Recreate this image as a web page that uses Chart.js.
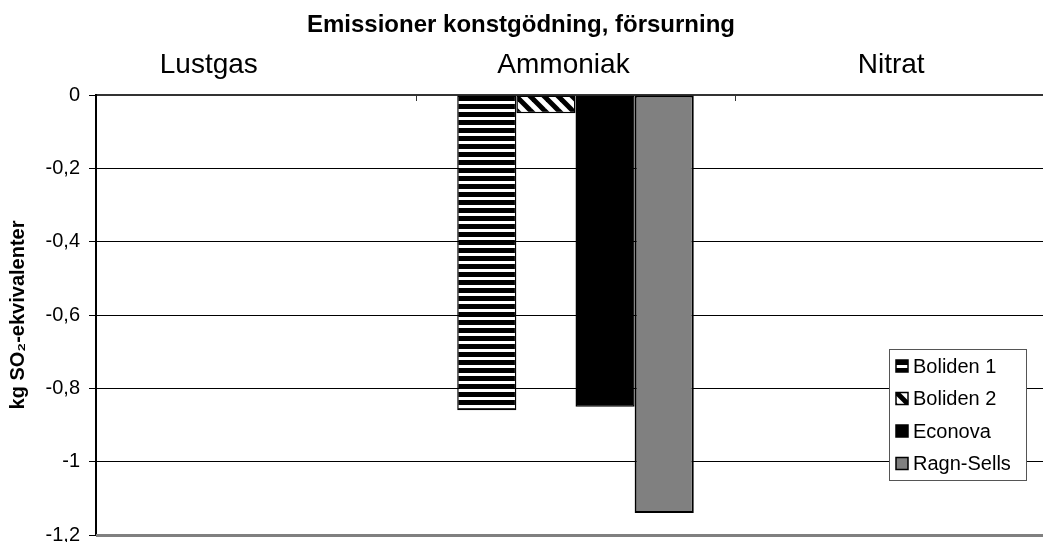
<!DOCTYPE html>
<html>
<head>
<meta charset="utf-8">
<script src="https://cdn.jsdelivr.net/npm/chart.js@4/dist/chart.umd.min.js"></script>
<style>
  html, body { margin: 0; padding: 0; background: #fff; overflow: hidden; }
  #wrap { width: 1043px; height: 542px; overflow: hidden; position: relative; }
  canvas { display: block; }
</style>
</head>
<body>
<div id="wrap"><canvas id="myChart" width="1070" height="542"></canvas></div>
<script>
const chartTitle = "Emissioner konstgödning, försurning";
const yTitle = "kg SO₂-ekvivalenter";
const categories = ["Lustgas", "Ammoniak", "Nitrat"];
// inga staplar syns för lustgas och nitrat
const boliden1 = [null, -0.86, null];
const boliden2 = [null, -0.05, null];
const econova = [null, -0.85, null];
const ragnSells = [null, -1.14, null];
const seriesNames = ["Boliden 1", "Boliden 2", "Econova", "Ragn-Sells"];
const yTicks = [0, -0.2, -0.4, -0.6, -0.8, -1, -1.2];

const FONT = '"Liberation Sans", Arial, sans-serif';
Chart.defaults.font.family = FONT;
Chart.defaults.color = "#000";

// mönster för Boliden-staplarna
function stripePattern() {
  const c = document.createElement("canvas");
  c.width = 8; c.height = 8;
  const g = c.getContext("2d");
  g.fillStyle = "#fff";
  g.fillRect(0, 0, 8, 8);
  g.fillStyle = "#000";
  g.fillRect(0, 0, 8, 5);
  return g.createPattern(c, "repeat");
}

function diagPattern() {
  const s = 14;
  const c = document.createElement("canvas");
  c.width = s; c.height = s;
  const g = c.getContext("2d");
  g.fillStyle = "#fff";
  g.fillRect(0, 0, s, s);
  g.strokeStyle = "#000";
  g.lineWidth = 5;
  for (const o of [-s, 0, s]) {
    g.beginPath();
    g.moveTo(o - 2, -2);
    g.lineTo(o + s + 2, s + 2);
    g.stroke();
  }
  return g.createPattern(c, "repeat");
}

const fills = [stripePattern(), diagPattern(), "#000000", "#808080"];
const values = [boliden1, boliden2, econova, ragnSells];

function fmt(v) {
  return Number(v.toFixed(1)).toString().replace(".", ",");
}

// titel, kategorinamn, legend och nedre kant ritas här
const decorations = {
  id: "decorations",
  afterDraw(chart) {
    const ctx = chart.ctx;
    const area = chart.chartArea;
    const x = chart.scales.x;
    ctx.save();

    // gråa nedre kanten
    ctx.strokeStyle = "#808080";
    ctx.lineWidth = 3;
    ctx.beginPath();
    ctx.moveTo(area.left, area.bottom + 0.5);
    ctx.lineTo(area.right, area.bottom + 0.5);
    ctx.stroke();

    // små streck mellan kategorierna
    ctx.strokeStyle = "#333";
    ctx.lineWidth = 1;
    for (let i = 1; i < categories.length; i++) {
      const px = Math.round((x.getPixelForValue(i - 1) + x.getPixelForValue(i)) / 2) + 0.5;
      ctx.beginPath();
      ctx.moveTo(px, area.top);
      ctx.lineTo(px, area.top + 6);
      ctx.stroke();
    }

    // rubrik
    ctx.fillStyle = "#000";
    ctx.textAlign = "center";
    ctx.textBaseline = "alphabetic";
    ctx.font = "bold 24px " + FONT;
    ctx.fillText(chartTitle, 521, 32);

    // kategorinamn ovanför diagrammet
    const nudge = [-47, -12, -4];
    ctx.font = "28px " + FONT;
    categories.forEach((c, i) => {
      ctx.fillText(c, x.getPixelForValue(i) + nudge[i], 73);
    });

    // legend
    const lx = 889, ly = 349, lw = 137, lh = 131;
    ctx.fillStyle = "#fff";
    ctx.fillRect(lx, ly, lw, lh);
    ctx.strokeStyle = "#555";
    ctx.lineWidth = 1;
    ctx.strokeRect(lx + 0.5, ly + 0.5, lw, lh);
    ctx.textAlign = "left";
    ctx.textBaseline = "middle";
    ctx.font = "20px " + FONT;
    chart.data.datasets.forEach((ds, i) => {
      const cy = ly + 17 + i * 32.5;
      ctx.fillStyle = ds.backgroundColor;
      ctx.fillRect(lx + 7, cy - 6, 12, 12);
      ctx.strokeStyle = "#000";
      ctx.lineWidth = 1.5;
      ctx.strokeRect(lx + 7, cy - 6, 12, 12);
      ctx.fillStyle = "#000";
      ctx.fillText(ds.label, lx + 24, cy + 1);
    });
    ctx.restore();
  }
};

new Chart(document.getElementById("myChart"), {
  type: "bar",
  data: {
    labels: categories,
    datasets: seriesNames.map((name, i) => ({
      label: name,
      data: values[i],
      backgroundColor: fills[i],
      borderColor: "#000",
      borderWidth: i === 3 ? 2 : 1.5,
      borderSkipped: false,
      barPercentage: 1,
      categoryPercentage: 0.74
    }))
  },
  options: {
    responsive: false,
    animation: false,
    devicePixelRatio: 1,
    layout: { padding: { top: 0, left: 0, right: 15, bottom: 7 } },
    plugins: {
      legend: { display: false },
      title: { display: false },
      tooltip: { enabled: false }
    },
    scales: {
      x: {
        position: "top",
        offset: true,
        ticks: { display: false },
        grid: { drawOnChartArea: false, drawTicks: false },
        border: { color: "#333", width: 2 },
        afterFit: (s) => { s.height = 95; }
      },
      y: {
        min: -1.2,
        max: 0,
        afterBuildTicks: (s) => { s.ticks = yTicks.map(v => ({ value: v })); },
        ticks: {
          padding: 9,
          font: { size: 20 },
          color: "#000",
          callback: (v) => fmt(v)
        },
        grid: { color: "#000", lineWidth: 1, tickLength: 7, tickColor: "#000" },
        border: { color: "#000", width: 2 },
        title: {
          display: true,
          text: yTitle,
          color: "#000",
          font: { size: 20, weight: "bold" },
          padding: { top: 6, bottom: 0 }
        },
        afterFit: (s) => {
          s.width = 96;
          s.paddingTop = 0;
          s.paddingBottom = 0;
        }
      }
    }
  },
  plugins: [decorations]
});
</script>
</body>
</html>
